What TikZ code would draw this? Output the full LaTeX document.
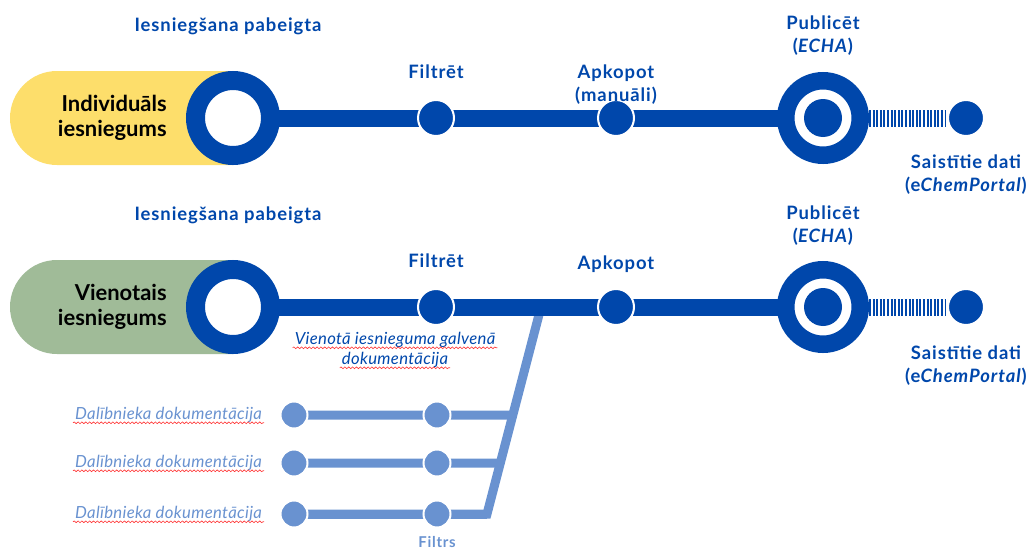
\documentclass[tikz,border=0pt]{standalone}
\usepackage{fontspec}
\setmainfont{Lato}
\usetikzlibrary{shapes.misc,backgrounds,calc,decorations.pathmorphing}
\definecolor{echablue}{RGB}{0,71,171}
\definecolor{partblue}{RGB}{105,146,208}
\definecolor{indivyellow}{RGB}{253,222,107}
\definecolor{jointgreen}{RGB}{160,187,152}
\def\u{0.02cm}
\tikzset{
	pill/.style={rounded rectangle, rounded rectangle right arc=none, minimum width=223*\u, minimum height=94*\u, inner sep=0},
	startring/.style={circle, draw=echablue, fill=white, line width=19*\u, minimum size=75*\u, inner sep=0},
	pubring/.style={circle, draw=echablue, fill=white, line width=17.5*\u, minimum size=74.5*\u, inner sep=0},
	pubcore/.style={circle, fill=echablue, minimum size=38*\u, inner sep=0},
	stopdot/.style={circle, fill=echablue, draw=white, line width=2*\u, minimum size=36*\u, inner sep=0},
	partdot/.style={circle, fill=partblue, draw=white, line width=2*\u, minimum size=27*\u, inner sep=0},
	mainline/.style={echablue, line width=17*\u},
	partline/.style={partblue, line width=9*\u},
	stripes/.style={echablue, line width=17*\u, dash pattern=on 0.04cm off 0.032cm, shorten >=0.03cm},
	steplbl/.style={text=echablue, font=\bfseries\fontsize{10.5}{13}\selectfont\addfontfeatures{LetterSpace=5}, align=center, inner sep=1pt},
	kindlbl/.style={text=black, font=\bfseries\fontsize{12.5}{14.2}\selectfont, align=right, inner sep=0, anchor=east},
	doclbl/.style={font=\itshape\fontsize{9.5}{11}\selectfont\addfontfeatures{LetterSpace=2}, inner sep=1pt},
	squig/.style={red!80!white, line width=0.35pt, decorate, decoration={snake, amplitude=0.5pt, segment length=2.2pt}}
}
\newcommand{\squiggle}[1]{\draw[squig] ([yshift=-1.8pt]#1.base west) -- ([yshift=-1.8pt]#1.base east);}
\begin{document}
\begin{tikzpicture}[x=0.02cm, y=-0.02cm]
	\useasboundingbox (0,0) rectangle (1032,551);
	% individual submission
	\node[pill, fill=indivyellow] (pill1) at (121.5,118) {};
	\node[startring] (start1) at (233,118) {};
	\node[kindlbl] (kind1) at (167,118) {Individuāls\\iesniegums};
	\node[stopdot] (filt1) at (436,118) {};
	\node[stopdot] (apk1) at (616,118) {};
	\node[pubring] (pub1) at (823,118) {};
	\node[pubcore] (core1) at (823,118) {};
	\node[stopdot] (link1) at (966,118) {};
	\node[steplbl] (done1) at (228,26) {Iesniegšana pabeigta};
	\node[steplbl] (filtlbl1) at (436,72) {Filtrēt};
	\node[steplbl] (apklbl1) at (616,85) {Apkopot\\(manuāli)};
	\node[steplbl] (publbl1) at (823,35.5) {Publicēt\\(\textit{ECHA})};
	\node[steplbl] (linklbl1) at (966,175) {Saistītie dati\\(e\textit{ChemPortal})};
	\draw[stripes] (pub1) -- (link1);
	% joint submission
	\node[pill, fill=jointgreen] (pill2) at (121.5,307) {};
	\node[startring] (start2) at (233,307) {};
	\node[kindlbl] (kind2) at (167,307) {Vienotais\\iesniegums};
	\node[stopdot] (filt2) at (436,307) {};
	\node[stopdot] (apk2) at (616,307) {};
	\node[pubring] (pub2) at (823,307) {};
	\node[pubcore] (core2) at (823,307) {};
	\node[stopdot] (link2) at (966,307) {};
	\node[steplbl] (done2) at (228,215) {Iesniegšana pabeigta};
	\node[steplbl] (filtlbl2) at (436,261) {Filtrēt};
	\node[steplbl] (apklbl2) at (616,264) {Apkopot};
	\node[steplbl] (publbl2) at (823,225.5) {Publicēt\\(\textit{ECHA})};
	\node[steplbl] (linklbl2) at (966,365.5) {Saistītie dati\\(e\textit{ChemPortal})};
	\draw[stripes] (pub2) -- (link2);
	\node[doclbl, text=echablue] (lead1) at (395,340) {Vienotā iesnieguma galvenā};
	\node[doclbl, text=echablue] (lead2) at (395,360) {dokumentācija};
	\squiggle{lead1}
	\squiggle{lead2}
	% member documents
	\coordinate (join) at (541,307);
	\coordinate (corner) at (487,514);
	\foreach \y [count=\i] in {415,463,514}
	{
		\node[partdot] (p\i) at (294,\y) {};
		\node[partdot] (f\i) at (437,\y) {};
		\node[doclbl, text=partblue, anchor=east] (member\i) at (264,\y) {Dalībnieka dokumentācija};
		\squiggle{member\i}
		\coordinate (m\i) at ($(join)!{(\y-307)/207}!(corner)$);
	}
	\node[steplbl, text=partblue, font=\bfseries\fontsize{8.5}{10}\selectfont\addfontfeatures{LetterSpace=5}] (filtrs) at (437,542) {Filtrs};
	\begin{pgfonlayer}{background}
		\foreach \i in {1,2,3}
			\draw[partline] (p\i.center) -- (m\i);
		\draw[partline] (p3.center) -- (corner) -- (join);
		\draw[mainline] (start1.center) -- (pub1.center);
		\draw[mainline] (start2.center) -- (pub2.center);
	\end{pgfonlayer}
\end{tikzpicture}
\end{document}
